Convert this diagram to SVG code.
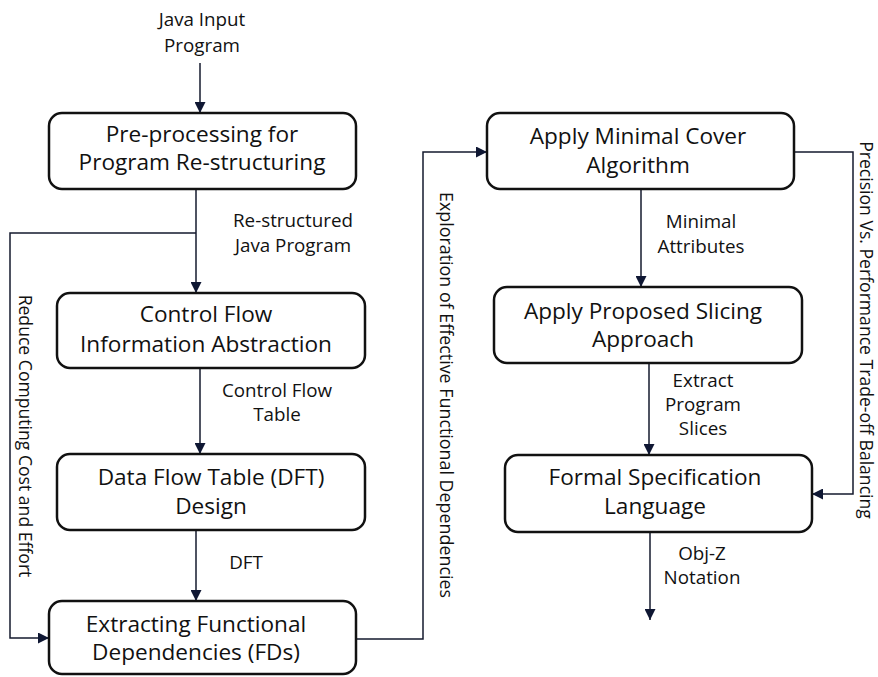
<svg xmlns="http://www.w3.org/2000/svg" width="878" height="677" viewBox="0 0 878 677">
  <style>
    .box { fill: #ffffff; stroke: #111111; stroke-width: 2.5; }
    .node { font-family: "Open Sans", "Liberation Sans", sans-serif; font-size: 22.6px; fill: #111111; text-anchor: middle; }
    .lbl { font-family: "Open Sans", "Liberation Sans", sans-serif; font-size: 18.8px; fill: #111111; text-anchor: middle; }
    .vlbl { font-family: "Open Sans", "Liberation Sans", sans-serif; font-size: 17.6px; fill: #111111; text-anchor: middle; }
    .conn { fill: none; stroke: #141a2e; stroke-width: 1.5; }
  </style>
  <defs>
    <marker id="arrow" viewBox="0 0 10 10" refX="10" refY="5" markerWidth="11" markerHeight="11" markerUnits="userSpaceOnUse" orient="auto">
      <path d="M0,0 L10,5 L0,10 z" fill="#0f1733"/>
    </marker>
  </defs>
  <rect width="878" height="677" fill="#ffffff"/>

  <!-- connectors -->
  <g id="connectors">
    <line class="conn" x1="200" y1="63" x2="200" y2="113" marker-end="url(#arrow)"/>
    <line class="conn" x1="196" y1="189" x2="196" y2="293" marker-end="url(#arrow)"/>
    <polyline class="conn" points="196,233 10,233 10,638 49,638" marker-end="url(#arrow)"/>
    <line class="conn" x1="200" y1="368" x2="200" y2="454" marker-end="url(#arrow)"/>
    <line class="conn" x1="196" y1="530" x2="196" y2="601" marker-end="url(#arrow)"/>
    <polyline class="conn" points="356,639 423,639 423,152 487,152" marker-end="url(#arrow)"/>
    <line class="conn" x1="641" y1="189" x2="641" y2="287" marker-end="url(#arrow)"/>
    <line class="conn" x1="649" y1="363" x2="649" y2="455" marker-end="url(#arrow)"/>
    <line class="conn" x1="650" y1="532" x2="650" y2="620" marker-end="url(#arrow)"/>
    <polyline class="conn" points="794,152 853,152 853,494 812,494" marker-end="url(#arrow)"/>

    <text class="lbl" x="202" y="26">Java Input</text>
    <text class="lbl" x="202" y="52">Program</text>
    <text class="lbl" x="293" y="227">Re-structured</text>
    <text class="lbl" x="293" y="252">Java Program</text>
    <text class="lbl" x="277" y="397">Control Flow</text>
    <text class="lbl" x="277" y="421">Table</text>
    <text class="lbl" x="246" y="569">DFT</text>
    <text class="lbl" x="701" y="228">Minimal</text>
    <text class="lbl" x="701" y="253">Attributes</text>
    <text class="lbl" x="703" y="387">Extract</text>
    <text class="lbl" x="703" y="411">Program</text>
    <text class="lbl" x="703" y="435">Slices</text>
    <text class="lbl" x="702" y="560">Obj-Z</text>
    <text class="lbl" x="702" y="584">Notation</text>

    <text class="vlbl" transform="translate(25,436) rotate(90)" y="6">Reduce Computing Cost and Effort</text>
    <text class="vlbl" transform="translate(446,395) rotate(90)" y="6" textLength="406" lengthAdjust="spacingAndGlyphs">Exploration of Effective Functional Dependencies</text>
    <text class="vlbl" transform="translate(865,330) rotate(90)" y="5">Precision Vs. Performance Trade-off Balancing</text>
  </g>

  <!-- nodes -->
  <g id="preprocessing">
    <rect class="box" x="49" y="113" width="307" height="76" rx="13"/>
    <text class="node" x="202" y="142">Pre-processing for</text>
    <text class="node" x="202" y="170">Program Re-structuring</text>
  </g>
  <g id="control-flow">
    <rect class="box" x="57" y="293" width="308" height="75" rx="13"/>
    <text class="node" x="206" y="322">Control Flow</text>
    <text class="node" x="206" y="352">Information Abstraction</text>
  </g>
  <g id="data-flow-table">
    <rect class="box" x="57" y="454" width="308" height="76" rx="13"/>
    <text class="node" x="211" y="485">Data Flow Table (DFT)</text>
    <text class="node" x="211" y="514">Design</text>
  </g>
  <g id="extracting-fds">
    <rect class="box" x="49" y="601" width="307" height="73" rx="13"/>
    <text class="node" x="196" y="632">Extracting Functional</text>
    <text class="node" x="196" y="660">Dependencies (FDs)</text>
  </g>
  <g id="minimal-cover">
    <rect class="box" x="487" y="113" width="307" height="76" rx="13"/>
    <text class="node" x="638" y="144">Apply Minimal Cover</text>
    <text class="node" x="638" y="173">Algorithm</text>
  </g>
  <g id="slicing">
    <rect class="box" x="494" y="287" width="308" height="76" rx="13"/>
    <text class="node" x="643" y="319">Apply Proposed Slicing</text>
    <text class="node" x="643" y="347">Approach</text>
  </g>
  <g id="formal-spec">
    <rect class="box" x="505" y="455" width="307" height="77" rx="13"/>
    <text class="node" x="655" y="485">Formal Specification</text>
    <text class="node" x="655" y="514">Language</text>
  </g>
</svg>
